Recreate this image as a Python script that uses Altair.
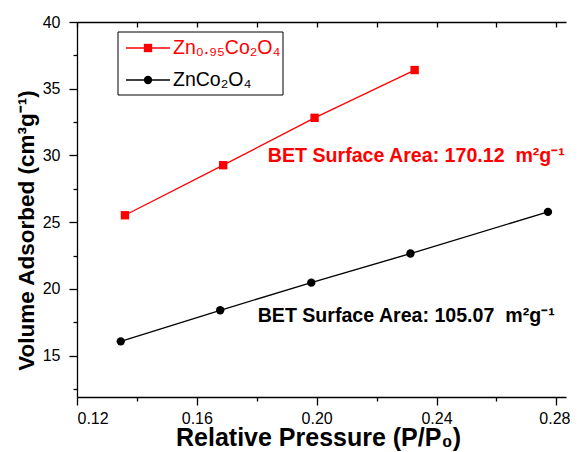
import altair as alt
import pandas as pd

# ---- data ----
series_names = ["Zn₀.₉₅Co₂O₄", "ZnCo₂O₄"]
series_colors = ["#ff0000", "#000000"]
series_shapes = ["square", "circle"]

zn095_p = [0.1360, 0.1688, 0.1993, 0.2327]
zn095_v = [25.52, 29.27, 32.82, 36.40]

znco_p = [0.1346, 0.1678, 0.1982, 0.2313, 0.2772]
znco_v = [16.07, 18.40, 20.47, 22.65, 25.77]

annot_text = ["BET Surface Area: 170.12\u00a0 m²g⁻¹", "BET Surface Area: 105.07\u00a0 m²g⁻¹"]
annot_color = ["#ff0000", "#000000"]
annot_p = [0.1837, 0.1803]
annot_v = [29.5, 17.5]

x_ticks = [0.12, 0.14, 0.16, 0.18, 0.20, 0.22, 0.24, 0.26, 0.28]
y_ticks = [12.5, 15, 17.5, 20, 22.5, 25, 27.5, 30, 32.5, 35, 37.5, 40]

df = pd.DataFrame({
    "p": zn095_p + znco_p,
    "v": zn095_v + znco_v,
    "series": [series_names[0]] * len(zn095_p) + [series_names[1]] * len(znco_p),
})
ann_df = pd.DataFrame({"p": annot_p, "v": annot_v, "t": annot_text, "c": annot_color})

FONT = "Liberation Sans"
x_scale = alt.Scale(domain=[0.12, 0.28322], nice=False, zero=False)
y_scale = alt.Scale(domain=[11.9, 40], nice=False, zero=False)
color_scale = alt.Scale(domain=series_names, range=series_colors)

x_major = "abs(round(datum.value*100)) % 4 == 0"
y_major = "datum.value % 5 == 0"

x_axis = alt.Axis(
    values=x_ticks,
    labelExpr=f"{x_major} ? format(datum.value, '.2f') : ''",
    tickSize={"condition": {"test": x_major, "value": 8}, "value": 4},
    labelOffset={"condition": {"test": "round(datum.value*100) == 28", "value": -2}, "value": 0},
    labelPadding=5,
    labelOverlap=False,
    title="Relative Pressure (P/P₀)",
    titleX=241, titleY=48, titleBaseline="alphabetic",
    titleFontSize=25,
)
y_axis = alt.Axis(
    values=y_ticks,
    labelExpr=f"{y_major} ? datum.label : ''",
    tickSize={"condition": {"test": y_major, "value": 8}, "value": 4},
    labelPadding=9,
    labelOverlap=False,
    title="Volume Adsorbed (cm³g⁻¹)",
    titleX=-44, titleY=208, titleBaseline="alphabetic", titleAngle=270,
    titleFontSize=22.5,
)


def Y():
    return alt.Y("v:Q", scale=y_scale, axis=y_axis)


lines = alt.Chart(df).mark_line(strokeWidth=1.3).encode(
    x=alt.X("p:Q", scale=x_scale, axis=x_axis),
    y=Y(),
    color=alt.Color("series:N", scale=color_scale, legend=None),
)

point_layers = []
for name, shp in zip(series_names, series_shapes):
    point_layers.append(
        alt.Chart(df).transform_filter(alt.datum.series == name)
        .mark_point(filled=True, size=70, opacity=1, shape=shp)
        .encode(
            x=alt.X("p:Q", scale=x_scale, axis=None),
            y=Y(),
            color=alt.Color("series:N", scale=color_scale, legend=None),
        )
    )

ann = alt.Chart(ann_df).mark_text(
    align="left", baseline="alphabetic", font=FONT, fontWeight="bold", fontSize=19.6
).encode(
    x=alt.X("p:Q", scale=x_scale, axis=alt.Axis(
        orient="top", values=x_ticks, labels=False, title=None,
        tickSize={"expr": "-5"})),
    y=Y(),
    text="t:N",
    color=alt.Color("c:N", scale=None),
)

# ---- hand-built legend (decoration, pixel positions in plot area) ----
one = pd.DataFrame({"k": [0]})
legend_layers = [
    alt.Chart(one).mark_rect(fill="white", stroke="black", strokeWidth=1).encode(
        x=alt.value(41), x2=alt.value(206), y=alt.value(10), y2=alt.value(73))
]
row_y = [26, 58]
for name, col, shp, ry in zip(series_names, series_colors, series_shapes, row_y):
    legend_layers.append(alt.Chart(one).mark_rule(color=col, strokeWidth=1.3).encode(
        x=alt.value(49), x2=alt.value(93), y=alt.value(ry)))
    legend_layers.append(alt.Chart(one).mark_point(
        filled=True, size=70, opacity=1, shape=shp, color=col).encode(
        x=alt.value(71), y=alt.value(ry)))
    legend_layers.append(alt.Chart(one).mark_text(
        align="left", baseline="middle", font=FONT, fontSize=19.5, color=col, text=name).encode(
        x=alt.value(96), y=alt.value(ry)))

chart = alt.layer(lines, *point_layers, ann, *legend_layers).resolve_axis(x="independent").properties(
    width=489,
    height=375,
    autosize=alt.AutoSizeParams(type="none"),
    padding={"left": 69, "top": 14, "right": 4, "bottom": 55},
    background="white",
).configure_view(stroke=None).configure_axis(
    grid=False,
    domainColor="black",
    domainWidth=1.3,
    tickColor="black",
    tickWidth=1.3,
    labelFont=FONT,
    labelFontSize=16,
    labelColor="black",
    titleFont=FONT,
    titleFontWeight="bold",
    titleColor="black",
)

chart.save("out.html", embed_options={"renderer": "svg", "actions": False})
